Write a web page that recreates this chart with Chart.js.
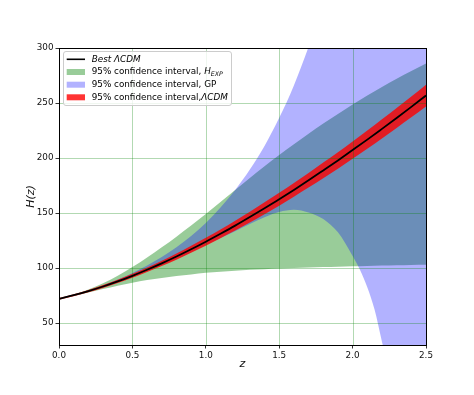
<!DOCTYPE html>
<html>
<head>
<meta charset="utf-8">
<script src="https://cdn.jsdelivr.net/npm/chart.js@4.4.0/dist/chart.umd.min.js"></script>
<style>
body { margin: 0; background: #fff; }
#wrap { width: 474px; height: 395px; }
</style>
</head>
<body>
<div id="wrap"><canvas id="hz-chart"></canvas></div>
<script>
// redshift grid and tick values
const zGrid = [0, 0.1, 0.2, 0.3, 0.4, 0.5, 0.6, 0.7, 0.8, 0.9, 1.0, 1.1, 1.2,
  1.3, 1.4, 1.5, 1.6, 1.7, 1.8, 1.9, 2.0, 2.1, 2.2, 2.3, 2.4, 2.5];
const xTicks = [0, 0.5, 1.0, 1.5, 2.0, 2.5];
const yTicks = [50, 100, 150, 200, 250, 300];

// best fit LCDM and its 95% band
const hBest = [72.0, 75.3, 79.0, 83.2, 87.8, 92.9, 98.4, 104.2, 110.4, 117.0, 123.9, 131.1, 138.5,
  146.3, 154.3, 162.5, 171.0, 179.7, 188.7, 197.8, 207.2, 216.7, 226.5, 236.4, 246.5, 256.8];
const lcdmLow = [71.2, 74.4, 77.9, 81.9, 86.3, 91.1, 96.3, 101.8, 107.6, 113.8, 120.3, 127.1, 134.0,
  141.4, 148.9, 156.7, 164.8, 173.1, 181.6, 190.3, 199.3, 208.4, 217.8, 227.3, 237.0, 246.9];
const lcdmHigh = [72.8, 76.2, 80.1, 84.5, 89.3, 94.7, 100.5, 106.6, 113.2, 120.2, 127.5, 135.1, 143.0,
  151.2, 159.7, 168.3, 177.2, 186.3, 195.8, 205.3, 215.1, 225.0, 235.2, 245.5, 256.0, 266.7];

// H_EXP band
const expLow = [71.7, 74.6, 77.8, 80.8, 83.8, 86.5, 89.0, 91.0, 92.7, 94.2, 95.6, 96.6, 97.5,
  98.3, 98.9, 99.5, 100.0, 100.4, 100.8, 101.2, 101.5, 101.9, 102.2, 102.5, 102.8, 103.0];
const expHigh = [72.3, 75.9, 80.5, 86.2, 93.0, 100.8, 109.5, 118.8, 128.5, 138.6, 149.1, 159.9, 171.0,
  181.9, 192.5, 202.7, 212.5, 222.1, 231.3, 240.1, 248.6, 256.8, 264.6, 272.1, 279.2, 286.0];

// GP band (finer near the drop)
const gpZ = [0, 0.1, 0.2, 0.3, 0.4, 0.5, 0.6, 0.7, 0.8, 0.9, 1.0, 1.1, 1.2, 1.3, 1.4, 1.5, 1.6,
  1.7, 1.8, 1.9, 1.95, 2.0, 2.05, 2.1, 2.15, 2.2, 2.25, 2.3, 2.4, 2.5];
const gpLow = [71.8, 75.0, 78.6, 82.6, 87.0, 91.8, 97.0, 102.5, 108.3, 114.4, 120.8, 127.2, 133.5,
  140.0, 146.2, 151.0, 153.0, 150.5, 144.5, 132.5, 122.5, 111.0, 98.5, 82.5, 62.0, 33.0, 5.0, -28, -100, -180];
const gpHigh = [72.2, 75.6, 79.6, 84.2, 89.5, 95.5, 102.3, 110.0, 118.8, 129.0, 140.9, 155.0, 171.0,
  189.5, 211.0, 236.5, 266.0, 301.0, 340, 384, 408, 434, 461, 490, 520, 551, 583, 616, 685, 758];

const pts = (xs, ys) => xs.map((x, i) => ({x: x, y: ys[i]}));

function band(xs, ys, color, fill) {
  return {
    data: pts(xs, ys),
    borderWidth: 0,
    pointRadius: 0,
    cubicInterpolationMode: 'monotone',
    backgroundColor: color,
    fill: fill
  };
}

Chart.defaults.font.family = '"DejaVu Sans"';

// grid above the fills but below the best-fit line
const gridLines = {
  id: 'gridLines',
  beforeDatasetDraw(chart, args) {
    if (args.index !== 0) return;
    const {ctx, chartArea: a, scales: {x, y}} = chart;
    ctx.save();
    ctx.beginPath();
    ctx.rect(a.left, a.top, a.right - a.left, a.bottom - a.top);
    ctx.clip();
    ctx.strokeStyle = 'rgba(0,128,0,0.3)';
    ctx.lineWidth = 1;
    ctx.beginPath();
    xTicks.forEach(v => {
      const px = Math.round(x.getPixelForValue(v)) + 0.5;
      ctx.moveTo(px, a.top); ctx.lineTo(px, a.bottom);
    });
    yTicks.forEach(v => {
      const py = Math.round(y.getPixelForValue(v)) + 0.5;
      ctx.moveTo(a.left, py); ctx.lineTo(a.right, py);
    });
    ctx.stroke();
    ctx.restore();
  },
  afterDatasetsDraw(chart) {
    const {ctx, chartArea: a} = chart;
    ctx.save();
    ctx.strokeStyle = '#000';
    ctx.lineWidth = 1;
    ctx.strokeRect(a.left + 0.5, a.top + 0.5, a.right - a.left, a.bottom - a.top);
    ctx.restore();
  }
};

function richText(ctx, parts, x, y) {
  parts.forEach(p => {
    ctx.font = (p.it ? 'italic ' : '') + (p.sub ? '6.2px' : '8.8px') + ' "DejaVu Sans"';
    ctx.fillText(p.t, x, y + (p.sub ? 2.2 : 0));
    x += ctx.measureText(p.t).width;
  });
}

const legendBox = {
  id: 'legendBox',
  afterDraw(chart) {
    const ctx = chart.ctx;
    ctx.save();
    ctx.fillStyle = 'rgba(255,255,255,0.8)';
    ctx.strokeStyle = '#cccccc';
    ctx.lineWidth = 1;
    ctx.beginPath();
    ctx.roundRect(63.5, 51.5, 168, 54, 2.5);
    ctx.fill();
    ctx.stroke();

    const rows = [59.3, 72, 84.7, 97.3];
    ctx.strokeStyle = '#000';
    ctx.lineWidth = 1.6;
    ctx.beginPath();
    ctx.moveTo(66.7, rows[0]); ctx.lineTo(85, rows[0]);
    ctx.stroke();
    ctx.fillStyle = 'rgba(0,128,0,0.4)';
    ctx.fillRect(66.7, rows[1] - 3, 18.3, 6);
    ctx.fillStyle = 'rgba(0,0,255,0.3)';
    ctx.fillRect(66.7, rows[2] - 3, 18.3, 6);
    ctx.fillStyle = 'rgba(255,0,0,0.8)';
    ctx.fillRect(66.7, rows[3] - 3, 18.3, 6);

    ctx.fillStyle = '#000';
    ctx.textBaseline = 'middle';
    const tx = 91.7;
    richText(ctx, [{t: 'Best ΛCDM', it: true}], tx, rows[0]);
    richText(ctx, [{t: '95% confidence interval, '}, {t: 'H', it: true}, {t: 'EXP', it: true, sub: true}], tx, rows[1]);
    richText(ctx, [{t: '95% confidence interval, GP'}], tx, rows[2]);
    richText(ctx, [{t: '95% confidence interval,'}, {t: 'ΛCDM', it: true}], tx, rows[3]);
    ctx.restore();
  }
};

new Chart(document.getElementById('hz-chart').getContext('2d'), {
  type: 'line',
  data: {
    datasets: [
      {
        data: pts(zGrid, hBest),
        borderColor: '#000',
        borderWidth: 1.8,
        pointRadius: 0,
        cubicInterpolationMode: 'monotone',
        fill: false
      },
      band(zGrid, lcdmLow, 'rgba(0,0,0,0)', false),
      band(zGrid, lcdmHigh, 'rgba(255,0,0,0.8)', '-1'),
      band(gpZ, gpLow, 'rgba(0,0,0,0)', false),
      band(gpZ, gpHigh, 'rgba(0,0,255,0.3)', '-1'),
      band(zGrid, expLow, 'rgba(0,0,0,0)', false),
      band(zGrid, expHigh, 'rgba(0,128,0,0.4)', '-1')
    ]
  },
  options: {
    responsive: true,
    maintainAspectRatio: false,
    animation: false,
    layout: {
      padding: {left: 21, top: 48, right: 48, bottom: 20}
    },
    plugins: {
      legend: {display: false},
      tooltip: {enabled: false}
    },
    scales: {
      x: {
        type: 'linear',
        min: 0,
        max: 2.5,
        afterBuildTicks: s => { s.ticks = xTicks.map(v => ({value: v})); },
        afterFit: s => { s.height = 30; },
        grid: {drawOnChartArea: false, tickLength: 3.5, tickColor: '#000', tickWidth: 0.8},
        border: {display: false},
        ticks: {
          padding: 1.5,
          color: '#111',
          font: {size: 8.8},
          maxRotation: 0,
          callback: v => v.toFixed(1)
        },
        title: {
          display: true,
          text: 'z',
          color: '#111',
          font: {size: 11, style: 'italic'}
        }
      },
      y: {
        min: 30,
        max: 300,
        afterBuildTicks: s => { s.ticks = yTicks.map(v => ({value: v})); },
        afterFit: s => { s.width = 38; },
        grid: {drawOnChartArea: false, tickLength: 3.5, tickColor: '#000', tickWidth: 0.8},
        border: {display: false},
        ticks: {
          padding: 2,
          color: '#111',
          font: {size: 8.8}
        },
        title: {
          display: true,
          text: 'H(z)',
          color: '#111',
          font: {size: 11, style: 'italic'}
        }
      }
    }
  },
  plugins: [gridLines, legendBox]
});
</script>
</body>
</html>
